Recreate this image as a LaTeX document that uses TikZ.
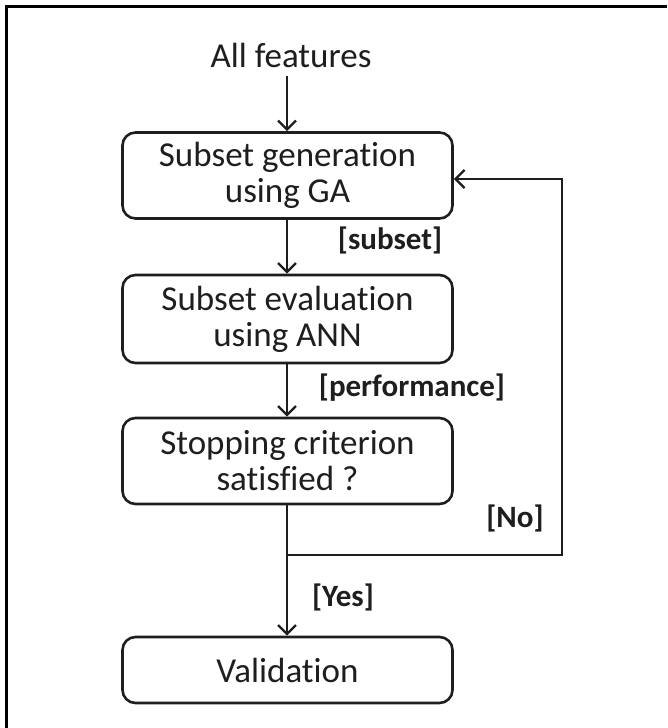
\documentclass[tikz,border=0pt]{standalone}
\usepackage{fontspec}
\setmainfont[Ligatures=NoCommon]{Carlito}
\usetikzlibrary{arrows.meta}
\definecolor{ink}{HTML}{1E1E1E}
\tikzset{
  boxstyle/.style={draw=ink, line width=2.6pt, rounded corners=13pt, minimum width=330pt, align=center, text=ink, font=\fontsize{35}{36}\selectfont, inner sep=0pt},
  conn/.style={draw=ink, line width=2.6pt, -{Straight Barb[length=9pt,width=18pt,line width=2.4pt]}},
  lbl/.style={text=ink, font=\fontsize{31}{34}\selectfont\bfseries, inner sep=0pt}
}
\begin{document}
\begin{tikzpicture}[x=1pt,y=1pt]
\useasboundingbox (0,0) rectangle (667,-728);
\fill[white] (0,0) rectangle (667,-728);
\draw[line width=2.4pt, black] (6.5,-728) -- (6.5,-6.5) -- (667,-6.5);
\node[text=ink, font=\fontsize{35}{36}\selectfont, inner sep=2pt] (all) at (291,-55) {All features};
\node[boxstyle, minimum height=86pt] (gen) at (287.5,-175.5) {Subset generation\\using GA};
\node[boxstyle, minimum height=88pt] (eval) at (287.5,-319) {Subset evaluation\\using ANN};
\node[boxstyle, minimum height=86pt] (stop) at (287.5,-461) {Stopping criterion\\satisfied ?};
\node[boxstyle, minimum height=66pt] (val) at (287.5,-670) {Validation};
\coordinate (j) at (287,-555);
\coordinate (r1) at (562,-555);
\coordinate (r2) at (562,-179);
\draw[conn] (287,-76) -- (gen.north -| j);
\draw[conn] (gen.south -| j) -- (eval.north -| j);
\draw[conn] (eval.south -| j) -- (stop.north -| j);
\draw[conn] (stop.south -| j) -- (val.north -| j);
\draw[conn] (j) -- (r1) -- (r2) -- (gen.east |- r2);
\node[lbl] (l1) at (390,-240) {[subset]};
\node[lbl] (l2) at (412,-388) {[performance]};
\node[lbl] (l3) at (515,-518) {[No]};
\node[lbl] (l4) at (343,-597) {[Yes]};
\end{tikzpicture}
\end{document}
